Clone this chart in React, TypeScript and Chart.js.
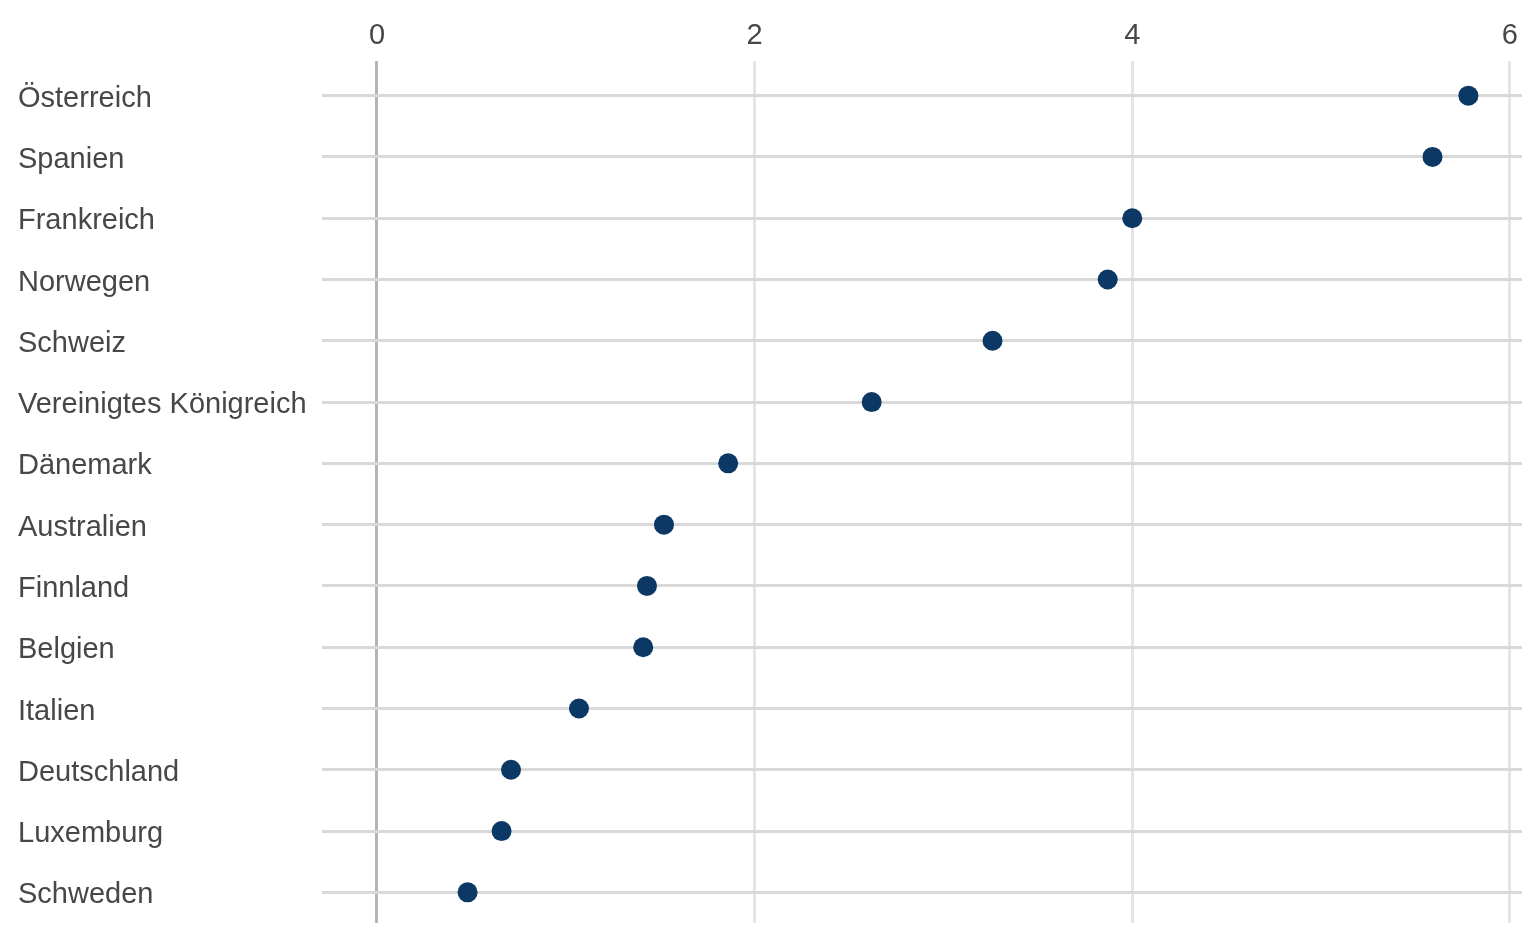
import React, { useEffect, useRef } from "react";
import { Chart, registerables } from "chart.js";

Chart.register(...registerables);

const categories: string[] = [
  "Österreich",
  "Spanien",
  "Frankreich",
  "Norwegen",
  "Schweiz",
  "Vereinigtes Königreich",
  "Dänemark",
  "Australien",
  "Finnland",
  "Belgien",
  "Italien",
  "Deutschland",
  "Luxemburg",
  "Schweden",
];

const values: number[] = [5.78, 5.59, 4.0, 3.87, 3.26, 2.62, 1.86, 1.52, 1.43, 1.41, 1.07, 0.71, 0.66, 0.48];

const xTicks: number[] = [0, 2, 4, 6];

export default function App() {
  const ref = useRef<HTMLCanvasElement | null>(null);

  useEffect(() => {
    document.body.style.margin = "0";
    const canvas = ref.current;
    if (!canvas) return;
    const font = { family: "'Liberation Sans', Arial, sans-serif", size: 29 };
    const chart = new Chart(canvas, {
      type: "line",
      data: {
        labels: categories,
        datasets: [
          {
            data: values,
            showLine: false,
            pointRadius: 10,
            pointHoverRadius: 10,
            pointBackgroundColor: "#0b3864",
            pointBorderColor: "#0b3864",
            pointBorderWidth: 0,
          },
        ],
      },
      options: {
        indexAxis: "y",
        animation: false,
        responsive: false,
        maintainAspectRatio: false,
        layout: { padding: { top: 0, left: 18, right: 18, bottom: 24 } },
        plugins: { legend: { display: false }, tooltip: { enabled: false } },
        scales: {
          x: {
            type: "linear",
            position: "top",
            min: -0.291,
            max: 6.064,
            afterFit: (s: any) => {
              s.height = 65;
            },
            afterBuildTicks: (s: any) => {
              s.ticks = xTicks.map((v) => ({ value: v }));
            },
            ticks: {
              font,
              color: "#474747",
              padding: 8,
              includeBounds: false,
              callback: (v: any) => String(v),
            },
            border: { display: false },
            grid: {
              drawTicks: true,
              tickLength: 4,
              lineWidth: 3,
              color: (ctx: any) => (ctx.tick && ctx.tick.value === 0 ? "#b4b4b4" : "#e4e4e4"),
            },
          },
          y: {
            type: "category",
            offset: true,
            afterFit: (s: any) => {
              s.width = 304;
            },
            ticks: {
              font,
              color: "#474747",
              crossAlign: "far",
              padding: 0,
              labelOffset: 3,
            },
            border: { display: false },
            grid: {
              offset: false,
              drawTicks: false,
              lineWidth: 3,
              color: "#d9d9d9",
            },
          },
        },
      },
    });
    return () => chart.destroy();
  }, []);

  return (
    <div style={{ position: "fixed", left: 0, top: 0, width: 1540, height: 947, background: "#ffffff" }}>
      <canvas ref={ref} width={1540} height={947} style={{ display: "block" }} />
    </div>
  );
}
